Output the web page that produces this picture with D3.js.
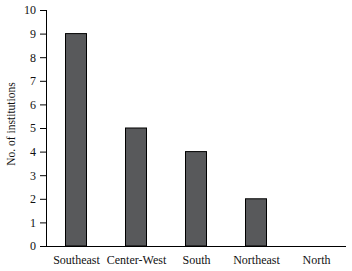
<!DOCTYPE html>
<html>
<head>
<meta charset="utf-8">
<script src="https://cdn.jsdelivr.net/npm/d3@7"></script>
<style>
  body { margin: 0; background: #fff; }
  text { font-family: "Liberation Serif", serif; }
</style>
</head>
<body>
<div id="chart-area"></div>
<script>
// Data
const regions = ["Southeast", "Center-West", "South", "Northeast", "North"];
const counts = [9, 5, 4, 2, 0];
const yTicks = [0, 1, 2, 3, 4, 5, 6, 7, 8, 9, 10];

// Dimensions
const margin = { left: 46, right: 6, top: 10, bottom: 25 };
const width = 352 - margin.left - margin.right;
const height = 271 - margin.top - margin.bottom;

const svg = d3.select("#chart-area")
    .append("svg")
        .attr("width", 352)
        .attr("height", 271);

const chart = svg.append("g")
    .attr("transform", "translate(" + margin.left + "," + margin.top + ")");

// scales
const xScale = d3.scalePoint()
    .domain(regions)
    .range([0, width])
    .padding(0.5);

const yScale = d3.scaleLinear()
    .domain([0, 10])
    .range([height, 0]);

const barWidth = 21;

// bars
chart.selectAll("rect")
    .data(regions.map((r, i) => ({ region: r, value: counts[i] })).filter(d => d.value > 0))
    .enter()
    .append("rect")
        .attr("x", d => xScale(d.region) - barWidth / 2)
        .attr("y", d => yScale(d.value))
        .attr("width", barWidth)
        .attr("height", d => yScale(0) - yScale(d.value))
        .attr("fill", "#58595b")
        .attr("stroke", "#000")
        .attr("stroke-width", 1);

// y axis
const yAxis = chart.append("g")
    .call(d3.axisLeft(yScale).tickValues(yTicks).tickSize(6).tickPadding(4).tickFormat(d3.format("d")));
yAxis.select(".domain").attr("d", "M0.5," + height + "V0").attr("stroke", "#000");
yAxis.selectAll("text").attr("font-size", "12px").attr("fill", "#111")
    .style("font-family", "'Liberation Serif', serif");

// x axis
const xAxis = chart.append("g")
    .attr("transform", "translate(0," + height + ")")
    .call(d3.axisBottom(xScale).tickSize(0).tickPadding(9));
xAxis.select(".domain").attr("d", "M0," + 0.5 + "H" + width).attr("stroke", "#000");
xAxis.selectAll("text").attr("font-size", "12px").attr("fill", "#111")
    .style("font-family", "'Liberation Serif', serif");

// y label
svg.append("text")
    .attr("transform", "rotate(-90)")
    .attr("x", -(margin.top + height / 2) + 4)
    .attr("y", 15)
    .attr("text-anchor", "middle")
    .attr("font-size", "11.5px")
    .attr("fill", "#111")
    .text("No. of institutions");
</script>
</body>
</html>
